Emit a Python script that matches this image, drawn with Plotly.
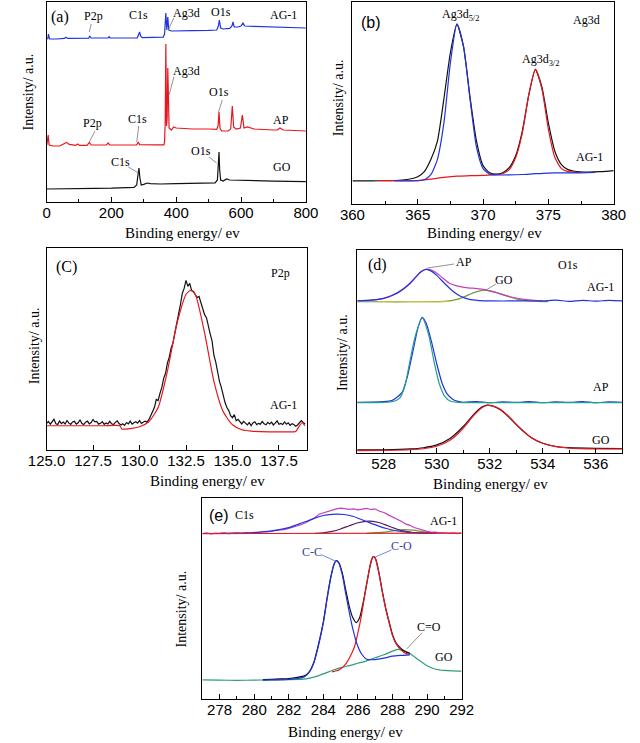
import plotly.graph_objects as go

W, H = 640, 743

# ---------------- (a) survey spectra ----------------
A_GO_X = [0, 20, 50, 100, 150, 200, 250, 270, 278, 282, 285, 288, 292, 300, 310, 320, 350, 400, 450, 500, 520, 527, 530, 532, 534, 537, 545, 555, 565, 600, 700, 800]
A_GO_Y = [6.5, 6.5, 6.6, 6.7, 6.8, 6.9, 7.0, 7.3, 8.5, 13, 17, 12, 8.5, 8.8, 9.5, 9.2, 9.0, 9.2, 9.3, 9.4, 9.6, 11, 18, 25, 16, 11, 10.5, 11.5, 11, 10.8, 10.4, 10.2]

A_AP_X = [1, 3, 5, 8, 20, 40, 55, 62, 70, 90, 96, 102, 125, 132, 138, 185, 190, 195, 250, 278, 283, 287, 340, 362, 364, 366, 368, 370, 372, 374, 376, 378, 385, 392, 400, 450, 500, 525, 529, 532, 535, 540, 560, 568, 573, 577, 585, 598, 604, 609, 620, 630, 640, 700, 712, 720, 730, 800]
A_AP_Y = [28.5, 31, 33.5, 28.5, 28.0, 28.0, 29.5, 29.8, 28.8, 28.3, 29.0, 28.3, 28.3, 29.8, 28.5, 28.6, 29.5, 28.6, 28.5, 28.6, 30, 28.7, 28.6, 28.6, 30, 40, 79, 38, 42, 67, 42, 37, 36, 37.5, 37, 36.5, 36.5, 36.3, 38, 45, 37, 35.5, 35.5, 36.5, 48, 37.5, 36.5, 37, 43.5, 37, 37.5, 37, 36.5, 36, 36, 37, 36, 35.5]

A_AG_X = [1, 4, 6, 9, 30, 55, 60, 65, 130, 133, 137, 190, 193, 196, 280, 285, 287, 290, 295, 360, 364, 368, 371, 374, 377, 385, 400, 450, 500, 525, 530, 533, 537, 545, 565, 572, 575, 579, 590, 600, 606, 611, 640, 700, 800]
A_AG_Y = [81.5, 81.8, 84, 81.5, 81.5, 81.8, 82.4, 81.8, 81.9, 83, 82, 82, 82.6, 82, 82.1, 84, 85, 83, 82.2, 82.4, 84, 94.5, 86, 92.5, 86, 85.5, 85.6, 85.7, 85.8, 86, 88, 91, 87, 86.5, 86.8, 88, 90, 87.5, 87.5, 88, 89.5, 88, 87.8, 87.5, 87]

# ---------------- (b) Ag3d ----------------
B_DATA_X = [360, 361, 362, 363, 364, 364.5, 365, 365.5, 366, 366.5, 367, 367.5, 368, 368.5, 369, 369.5, 370, 370.5, 371, 371.5, 372, 372.5, 373, 373.5, 374, 374.5, 375, 375.5, 376, 376.5, 377, 378, 379, 380]
B_DATA_Y = [11.4, 11.4, 11.5, 11.6, 12.0, 12.5, 13.5, 16, 22, 31, 52, 75, 89, 78, 53, 31, 19, 15.5, 14.8, 15.5, 18, 24, 36, 54, 66.5, 58, 40, 26, 19.5, 17, 16.2, 15.8, 16, 16.5]
B_FIT1_X = [363.2, 364, 365, 365.5, 366, 366.5, 367, 367.5, 368, 368.5, 369, 369.5, 370, 370.5, 371, 372, 373, 374, 375, 376, 377, 378, 378.6]
B_FIT1_Y = [11.4, 11.4, 11.5, 12, 14.5, 22, 40, 70, 89, 78, 52, 28, 17.5, 14.8, 14.4, 14.4, 14.6, 15.0, 15.3, 15.4, 15.4, 15.5, 15.6]
B_FIT2_X = [362, 363, 364, 365, 366, 367, 368, 369, 370, 371, 371.5, 372, 372.5, 373, 373.5, 374, 374.5, 375, 375.5, 376, 376.5, 377, 377.5]
B_FIT2_Y = [11.6, 11.6, 11.5, 11.6, 12.3, 13.2, 13.8, 14.0, 14.2, 14.5, 15, 17, 23, 35, 54, 66.8, 57, 37, 23, 17.5, 16, 15.7, 15.6]

# ---------------- (c) P2p ----------------
C_DATA_Y = [13.2, 14.1, 12.8, 13.9, 15.2, 13.0, 12.6, 14.4, 13.1, 13.8,
            12.9, 14.6, 13.3, 12.7, 13.9, 14.2, 12.8, 13.5, 15.0, 13.1,
            12.6, 13.8, 14.3, 12.9, 13.6, 15.1, 13.9, 14.1, 12.8, 13.2,
            14.0, 12.7, 13.4, 12.9, 14.2, 13.0, 12.6, 13.7, 14.4, 13.1,
            12.4, 13.0, 12.2, 13.6, 12.9, 14.3, 12.8, 13.5, 14.0, 13.3,
            14.6, 13.2, 13.9, 14.3, 13.8, 15.0, 17.0, 19.5, 21.0, 25.0,
            24.5, 28.0, 31.0, 35.5, 38.0, 43.0, 46.0, 50.5, 53.0, 58.0,
            62.5, 66.0, 72.0, 77.5, 80.0, 84.0, 81.0, 82.5, 79.0, 78.5,
            77.0, 75.5, 76.0, 73.0, 70.5, 67.0, 65.5, 61.0, 57.5, 54.0,
            47.0, 43.5, 38.0, 34.0, 31.0, 26.5, 23.5, 21.0, 19.5, 17.0,
            16.0, 17.5, 14.5, 15.2, 13.8, 12.9, 14.2, 13.0, 12.4, 13.6,
            12.1, 13.4, 14.0, 12.6, 13.2, 12.8, 14.1, 13.0, 12.5, 13.7,
            12.9, 13.8, 12.4, 13.3, 14.4, 12.7, 13.1, 12.6, 13.9, 12.8,
            13.5, 12.2, 13.0, 12.6, 11.8, 12.4, 13.4, 14.5, 13.6, 12.9]
C_DATA_X = [round(125.0 + 0.1 * i, 1) for i in range(len(C_DATA_Y))]
C_FIT_X = [125, 126, 127, 128, 128.95, 129.05, 129.5, 130, 130.5, 131, 131.5, 132, 132.5, 132.75, 133, 133.5, 134, 134.5, 135, 135.5, 136, 137, 138, 138.4, 138.6, 138.75, 138.9]
C_FIT_Y = [12.0, 12.0, 12.0, 12.0, 12.0, 10.4, 10.6, 11.5, 14, 21, 39, 62, 77, 79, 77, 58, 34, 19, 12.5, 10.0, 9.3, 9.0, 9.0, 9.2, 12, 13.5, 12]

# ---------------- (d) O1s ----------------
D_AG_DATA_X = [527, 527.5, 528, 528.5, 529, 529.3, 529.6, 529.9, 530.2, 530.5, 530.8, 531.1, 531.5, 531.8, 532.1, 532.5, 532.9, 533.3, 533.7, 534]
D_AG_DATA_Y = [75.0, 75.3, 76.2, 78.8, 83.5, 88, 90.5, 89.5, 86.5, 83.5, 82.2, 81.5, 81.0, 80.5, 79.5, 78.0, 76.6, 75.7, 75.2, 75.0]
D_AG_AP_X = [527, 527.5, 528, 528.3, 528.6, 528.9, 529.2, 529.4, 529.6, 529.8, 530.0, 530.3, 530.6, 530.9, 531.2, 531.6, 532, 533, 534, 534.5, 535, 535.5, 536, 536.5, 537]
D_AG_AP_Y = [75.0, 75.3, 76.2, 77.5, 79.5, 82.5, 86.5, 89.3, 90.5, 89.6, 87.5, 83.5, 79.8, 77.2, 75.8, 75.1, 74.9, 74.9, 74.9, 75.3, 74.7, 75.2, 74.8, 75.2, 74.9]
D_AG_GO_X = [527, 528, 529, 530, 530.4, 530.8, 531.1, 531.4, 531.8, 532.2, 532.6, 533.0, 533.4, 533.8, 534.2]
D_AG_GO_Y = [74.5, 74.5, 74.5, 74.6, 74.8, 75.8, 77.3, 79.0, 80.2, 79.3, 77.5, 75.9, 75.0, 74.7, 74.6]
D_AG_BASE_X = [527.8, 528.5, 529.2, 529.9, 530.5]
D_AG_BASE_Y = [74.6, 74.5, 74.6, 74.5, 74.7]
D_AP_DATA_X = [527, 527.5, 528.0, 528.3, 528.5, 528.7, 528.9, 529.1, 529.3, 529.45, 529.6, 529.8, 530.0, 530.2, 530.4, 530.6, 530.8, 531, 531.5, 532, 532.5, 533, 533.5, 534, 534.5, 535, 535.5, 536, 536.5, 537]
D_AP_DATA_Y = [25.0, 25.1, 25.3, 25.8, 27.5, 30, 38, 50, 62, 66.8, 64, 55, 44, 34.5, 29, 26.5, 25.4, 25.0, 25.3, 24.8, 25.2, 24.9, 25.3, 24.8, 25.2, 24.9, 25.3, 24.8, 25.2, 25.0]
D_AP_FIT_X = [527, 528.0, 528.4, 528.6, 528.8, 529.0, 529.2, 529.45, 529.7, 529.9, 530.1, 530.3, 530.5, 530.8, 531, 537]
D_AP_FIT_Y = [24.8, 24.9, 25.5, 27, 33, 46, 58, 66.5, 58, 45, 34, 28, 25.6, 24.9, 24.8, 24.8]
D_GO_DATA_X = [527, 528, 529, 529.5, 530, 530.5, 530.8, 531.1, 531.4, 531.7, 531.9, 532.1, 532.4, 532.7, 533.0, 533.3, 533.6, 534.0, 534.5, 535, 536, 537]
D_GO_DATA_Y = [1.5, 1.6, 2.0, 2.6, 4.0, 7.2, 10.5, 14.5, 19, 22.6, 23.6, 23.2, 21.3, 18, 14, 10.3, 7.3, 4.8, 3.2, 2.6, 2.3, 2.2]
D_GO_FIT_Y = [1.2, 1.3, 1.6, 2.1, 3.3, 6.3, 9.5, 13.8, 18.5, 22.3, 23.4, 23.2, 21.5, 18.2, 14.2, 10.5, 7.4, 4.8, 3.1, 2.4, 2.0, 2.0]

# ---------------- (e) C1s ----------------
E_GO_BG_X = [277, 278, 279, 280, 281, 282, 283, 283.5, 284, 284.5, 285, 285.5, 286, 286.5, 287, 287.5, 288, 288.3, 288.6, 289, 289.5, 290, 290.5, 291, 291.5, 292]
E_GO_BG_Y = [9.5, 9.4, 9.3, 9.4, 9.5, 9.6, 10.0, 11.0, 12.5, 14.2, 15.6, 16.6, 17.8, 19.0, 20.5, 22.0, 23.8, 24.7, 24.2, 22.6, 19.5, 16.5, 14.8, 14.2, 14.0, 13.9]
E_GO_CC_X = [280.5, 281, 282, 282.5, 282.9, 283.2, 283.45, 283.7, 284.0, 284.2, 284.4, 284.6, 284.75, 284.9, 285.1, 285.3, 285.5, 285.7, 285.9, 286.2, 286.5, 287, 287.5, 288, 288.5, 289]
E_GO_CC_Y = [9.4, 9.5, 9.7, 10.2, 11, 13.5, 18, 26, 38, 49, 59, 66.5, 68.7, 67.5, 61.5, 52, 43, 35, 28.5, 22.5, 19.8, 19.6, 20.3, 21.3, 21.7, 22.0]
E_GO_CO_X = [284.5, 284.9, 285.3, 285.6, 285.8, 286.0, 286.2, 286.4, 286.6, 286.75, 286.87, 287.0, 287.2, 287.4, 287.6, 287.8, 288.0, 288.2, 288.5, 288.75, 289.0]
E_GO_CO_Y = [13.5, 14.4, 17.5, 22, 26, 33, 41.5, 52, 62, 68.5, 70.8, 70, 63, 53.5, 45, 38, 31.5, 27.5, 24.3, 22.7, 22.2]
E_GO_DATA_X = [280.5, 281, 281.5, 282, 282.5, 282.9, 283.2, 283.45, 283.7, 284.0, 284.2, 284.4, 284.6, 284.75, 284.9, 285.1, 285.3, 285.5, 285.7, 285.9, 286.1, 286.3, 286.5, 286.7, 286.87, 287.0, 287.2, 287.4, 287.6, 287.8, 288.0, 288.2, 288.5, 288.75, 289]
E_GO_DATA_Y = [9.6, 9.8, 10.0, 10.2, 10.8, 11.5, 13.8, 18.3, 26.5, 38.5, 49.5, 59.5, 66.7, 68.9, 67.8, 62.5, 54, 46, 40.5, 38, 40.5, 48, 57, 66, 70.8, 70.2, 63.5, 54, 45.5, 38.5, 32, 28, 25, 23.5, 22.7]
E_AG_DATA_Y = [82.3, 82.6, 82.2, 82.5, 82.4, 82.7, 82.3, 82.5, 82.6, 82.4, 82.8, 82.6, 82.9, 82.8, 83.2, 83.1,
               83.5, 83.6, 84.1, 84.3, 84.9, 85.4, 86.1, 86.8, 87.8, 88.9, 90.2, 91.9, 92.6, 93.1, 94.0, 94.6,
               95.0, 94.7, 94.3, 94.6, 94.1, 94.5, 94.8, 94.3, 94.5, 93.4, 92.8, 91.6, 90.6, 89.2, 88.4, 87.1,
               86.4, 85.3, 84.6, 83.8, 83.4, 82.9, 83.0, 82.6, 82.7, 82.4, 82.6, 82.3, 82.5]
E_AG_DATA_X = [277 + 0.25 * i for i in range(len(E_AG_DATA_Y))]
E_AG_CC_X = [278, 279, 280, 281, 282, 282.5, 283, 283.5, 284, 284.5, 284.8, 285.2, 285.7, 286.2, 286.7, 287.2, 287.7, 288.2, 288.8, 289.5, 290.5]
E_AG_CC_Y = [82.4, 82.5, 82.8, 83.6, 85.3, 86.8, 88.3, 90, 91.3, 91.9, 92, 91.8, 90.9, 89.3, 87.6, 86, 84.7, 83.7, 83.0, 82.6, 82.4]
E_AG_CO_X = [283.5, 284, 284.5, 285, 285.5, 286, 286.6, 287.2, 287.7, 288.2, 288.7, 289.2, 289.8, 290.3]
E_AG_CO_Y = [82.4, 82.7, 83.4, 84.6, 86.2, 87.7, 88.5, 87.8, 86.3, 84.7, 83.5, 82.8, 82.5, 82.4]
E_AG_CEO_X = [286.5, 287.5, 288.2, 288.7, 289.2, 289.7, 290.2, 290.8]
E_AG_CEO_Y = [82.4, 83.0, 83.9, 84.3, 84.0, 83.3, 82.7, 82.4]
E_AG_BASE_X = [277, 292]
E_AG_BASE_Y = [82.3, 82.5]

BLACK = '#111111'
BLUE = '#2233dd'
RED = '#e8161e'
MAGENTA = '#c040c0'
GREEN = '#2e9e78'
TEAL = '#1fa08c'
OLIVE = '#6f9a35'
PURPLE = '#5a1a5a'
YELLOW = '#c9c24a'

fig = go.Figure()


def add(xs, ys, color, ax, shape='spline', width=1.2):
    fig.add_trace(go.Scatter(
        x=xs, y=ys, mode='lines',
        line=dict(color=color, width=width, shape=shape, smoothing=0.6 if shape == 'spline' else None),
        xaxis='x' + ax, yaxis='y' + ax, showlegend=False, hoverinfo='skip'))


# (a)
add(A_GO_X, A_GO_Y, BLACK, '', 'linear')
add(A_AP_X, A_AP_Y, RED, '', 'linear')
add(A_AG_X, A_AG_Y, BLUE, '', 'linear')
# (b)
add(B_DATA_X, B_DATA_Y, BLACK, '2')
add(B_FIT2_X, B_FIT2_Y, RED, '2')
add(B_FIT1_X, B_FIT1_Y, BLUE, '2')
# (c)
add(C_DATA_X, C_DATA_Y, BLACK, '3', 'linear')
add(C_FIT_X, C_FIT_Y, RED, '3')
# (d)
add(D_GO_DATA_X, D_GO_DATA_Y, BLACK, '4')
add(D_GO_DATA_X, D_GO_FIT_Y, RED, '4')
add(D_AP_DATA_X, D_AP_DATA_Y, BLUE, '4')
add(D_AP_FIT_X, D_AP_FIT_Y, TEAL, '4')
add(D_AG_GO_X, D_AG_GO_Y, OLIVE, '4')
add(D_AG_BASE_X, D_AG_BASE_Y, YELLOW, '4')
add(D_AG_DATA_X, D_AG_DATA_Y, MAGENTA, '4')
add(D_AG_AP_X, D_AG_AP_Y, BLUE, '4')
# (e)
add(E_GO_BG_X, E_GO_BG_Y, GREEN, '5')
add(E_GO_DATA_X, E_GO_DATA_Y, BLACK, '5')
add(E_GO_CO_X, E_GO_CO_Y, RED, '5')
add(E_GO_CC_X, E_GO_CC_Y, BLUE, '5')
add(E_AG_CEO_X, E_AG_CEO_Y, OLIVE, '5')
add(E_AG_DATA_X, E_AG_DATA_Y, MAGENTA, '5', 'linear')
add(E_AG_CO_X, E_AG_CO_Y, PURPLE, '5')
add(E_AG_CC_X, E_AG_CC_Y, BLUE, '5')
add(E_AG_BASE_X, E_AG_BASE_Y, RED, '5', 'linear')


def px(x):
    return x / W


def py(y):
    return 1 - y / H


# pixel boxes: left, top, right, bottom
BOXES = {
    '': (29, 2, 302, 202),
    '2': (351, 2, 626, 204),
    '3': (29, 248, 303, 450),
    '4': (356, 250, 635, 453),
    '5': (193, 498, 466, 699),
}
XR = {'': [0, 800], '2': [360, 380], '3': [125, 139], '4': [527, 537], '5': [277, 292]}
XTICKS = {
    '': dict(tick0=0, dtick=200, minor=100, fmt=''),
    '2': dict(tick0=360, dtick=5, minor=2.5, fmt=''),
    '3': dict(tick0=125, dtick=2.5, minor=None, fmt='.1f'),
    '4': dict(tick0=528, dtick=2, minor=1, fmt=''),
    '5': dict(tick0=278, dtick=2, minor=1, fmt=''),
}

SANS = 'Liberation Sans, Arial, sans-serif'
SERIF = 'Liberation Serif, Times New Roman, serif'

layout = dict(width=W, height=H, autosize=False, margin=dict(l=0, r=0, t=0, b=0),
              paper_bgcolor='white', plot_bgcolor='white')
for ax, (l, t, r, b) in BOXES.items():
    tk = XTICKS[ax]
    xa = dict(domain=[px(l), px(r)], range=XR[ax], anchor='y' + ax,
              showline=True, linecolor='black', linewidth=1.3, mirror=True,
              ticks='inside', ticklen=5, tickcolor='black', tickwidth=1,
              tick0=tk['tick0'], dtick=tk['dtick'], tickformat=tk['fmt'],
              tickfont=dict(family=SANS, size=15, color='black'),
              ticklabelstandoff=-3,
              showgrid=False, zeroline=False, fixedrange=True)
    if tk['minor']:
        xa['minor'] = dict(ticks='inside', ticklen=3, dtick=tk['minor'], tickcolor='black', showgrid=False)
    ya = dict(domain=[py(b), py(t)], range=[0, 100], anchor='x' + ax,
              showline=True, linecolor='black', linewidth=1.3, mirror=True,
              ticks='', showticklabels=False, showgrid=False, zeroline=False, fixedrange=True)
    layout['xaxis' + ax] = xa
    layout['yaxis' + ax] = ya

fig.update_layout(**layout)

annotations = []
shapes = []


def text(s, x, y, size=12, font=SERIF, color='black', angle=0):
    annotations.append(dict(text=s, x=px(x), y=py(y), xref='paper', yref='paper',
                            showarrow=False, xanchor='center', yanchor='middle', textangle=angle,
                            font=dict(family=font, size=size, color=color)))


def line(x0, y0, x1, y1, color='#777777'):
    shapes.append(dict(type='line', xref='paper', yref='paper', x0=px(x0), y0=py(y0),
                       x1=px(x1), y1=py(y1), line=dict(color=color, width=0.8)))


# axis titles
for cx, cy in [(172, 233), (490, 233), (198, 481), (496, 484), (344, 732)]:
    text('Binding energy/ ev', cx, cy, size=15)
for cx, cy in [(11, 92), (336, 98), (16, 346), (341, 352), (171, 609)]:
    text('Intensity/ a.u.', cx, cy, size=14, angle=-90)

# (a)
text('(a)', 43, 17, 16)
text('P2p', 78, 16)
line(76, 24, 74, 32)
text('C1s', 126, 15)
text('Ag3d', 176, 13)
line(163, 18, 157, 30)
text('O1s', 213, 12)
text('AG-1', 278, 15)
text('Ag3d', 176, 71)
line(163, 77, 158, 95)
text('O1s', 210, 92)
line(214, 100, 210, 112)
text('P2p', 77, 123)
line(80, 131, 74, 142)
text('C1s', 125, 119)
line(126, 126, 124, 142)
text('AP', 276, 120)
text('C1s', 107, 162)
line(115, 167, 126, 173)
text('O1s', 192, 151)
line(200, 157, 208, 163)
text('GO', 277, 167)

# (b)
text('(b)', 370, 23, 16, SANS)
text('Ag3d<sub>5/2</sub>', 465, 15)
text('Ag3d<sub>3/2</sub>', 549, 60)
text('Ag3d', 597, 20)
text('AG-1', 600, 157)

# (c)
text('(C)', 50, 267, 16)
text('P2p', 275, 273)
text('AG-1', 278, 405)

# (d)
text('(d)', 377, 265, 16)
text('AP', 468, 262)
line(458, 264, 430, 268)
text('GO', 510, 280)
line(502, 284, 490, 291)
text('O1s', 578, 265)
text('AG-1', 612, 287)
text('AP', 613, 387)
text('GO', 613, 440)

# (e)
text('(e)', 210, 515, 16, SANS)
text('C1s', 237, 515)
text('AG-1', 447, 521)
text('C-C', 308, 552, color='#3040a0')
line(319, 555, 333, 561, '#5566cc')
text('C-O', 403, 546, color='#3040a0')
line(392, 550, 375, 557, '#5566cc')
text('C=O', 432, 627)
line(424, 633, 408, 649)
text('GO', 447, 657)

fig.update_layout(annotations=annotations, shapes=shapes)
fig.write_html('out.html', config={'displayModeBar': False},
               post_script="document.body.style.margin='0';document.body.style.padding='0';document.body.style.overflow='hidden';")
